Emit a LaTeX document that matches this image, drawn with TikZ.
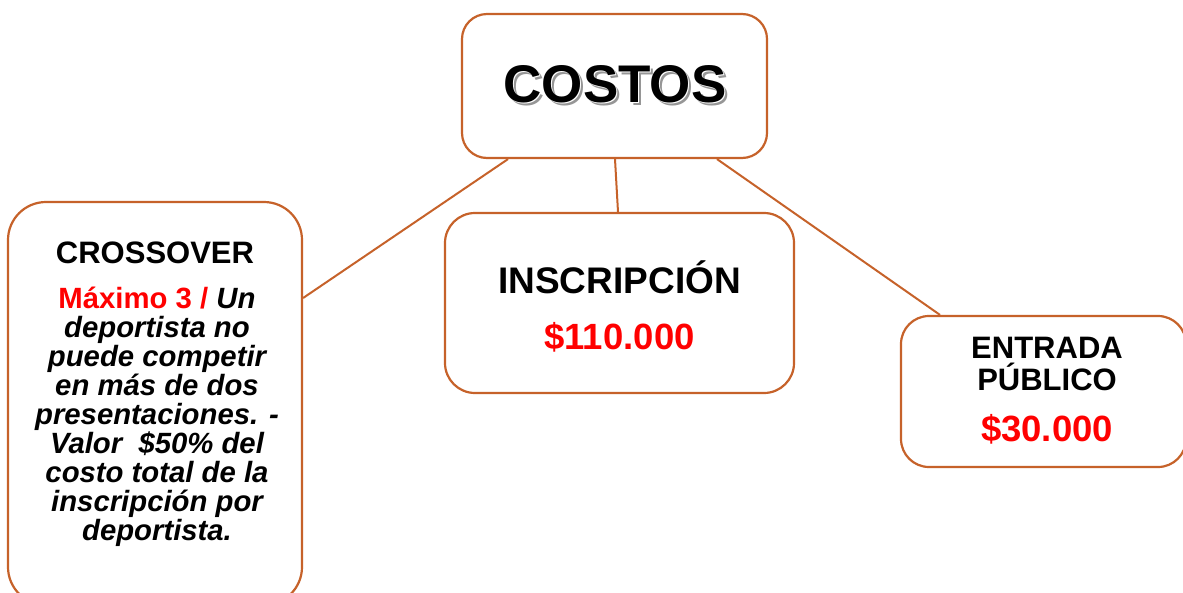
\documentclass[tikz,border=0pt]{standalone}
\usepackage{fontspec}
\setmainfont{Liberation Sans}
\definecolor{edge}{RGB}{198,98,42}
\definecolor{shadowgray}{RGB}{150,150,150}
\newcommand{\shadowtext}[1]{\makebox[0pt][l]{\hspace{3pt}\raisebox{-3pt}{\color{shadowgray}#1}}\makebox[0pt][l]{\hspace{1pt}\raisebox{-1pt}{\color{white}#1}}#1}
\tikzset{
  box/.style={draw=edge, line width=2.2pt, rounded corners=#1, fill=white, inner sep=0pt},
  link/.style={draw=edge, line width=2pt},
  head/.style={font=\fontsize{31}{32}\selectfont\bfseries, align=center, inner sep=0pt},
  price/.style={font=\fontsize{36.5}{38}\selectfont\bfseries, text=red, inner sep=0pt},
  titlefont/.style={font=\fontsize{53}{54}\selectfont\bfseries, inner sep=0pt},
}
\begin{document}
\begin{tikzpicture}[x=1pt,y=-1pt]
\useasboundingbox (0,0) rectangle (1183,592);
\clip (0,0) rectangle (1183,592);
% boxes
\node[box=25pt, minimum width=305pt, minimum height=144pt] (costos) at (614.5,86) {};
\node[box=38pt, minimum width=294pt, minimum height=403pt] (cross) at (155,403.5) {};
\node[box=30pt, minimum width=349pt, minimum height=180pt] (insc) at (619.5,303) {};
\node[box=28pt, minimum width=285pt, minimum height=151pt] (entr) at (1043.5,391.5) {};
% connectors
\draw[link] ([xshift=-106.5pt]costos.south) -- ([yshift=105.5pt]cross.east);
\draw[link] ([xshift=0.5pt]costos.south) -- ([xshift=-1.5pt]insc.north);
\draw[link] ([xshift=102.5pt]costos.south) -- ([xshift=-103.5pt]entr.north);
% COSTOS title with shadow effect
\node[titlefont] (title) at (615,86) {\shadowtext{COSTOS}};
% CROSSOVER
\node[head] (crosshead) at (155,253) {CROSSOVER};
\node[font=\fontsize{29.3}{29}\selectfont\bfseries\itshape, align=center, inner sep=0pt] (crossbody) at (157,417)
 {\textcolor{red}{\upshape Máximo 3 /} Un\\deportista no\\puede competir\\en más de dos\\presentaciones. -\\Valor~\ \$50\% del\\costo total de la\\inscripción por\\deportista.};
% INSCRIPCION
\node[head, font=\fontsize{37}{38}\selectfont\bfseries] (inschead) at (619.5,277) {INSCRIPCIÓN};
\node[price] (insprice) at (619.5,337) {\$110.000};
% ENTRADA
\node[head] (entrhead) at (1047,364) {ENTRADA\\PÚBLICO};
\node[price] (entrprice) at (1047,429) {\$30.000};
\end{tikzpicture}
\end{document}
